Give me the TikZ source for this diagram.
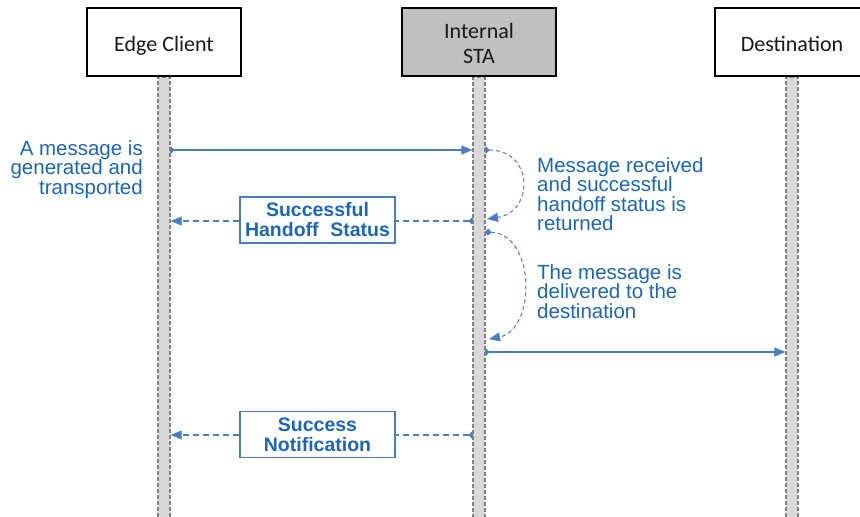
\documentclass[tikz,border=0pt]{standalone}
\usepackage{fontspec}
\setmainfont{Liberation Sans}
\newfontfamily\actorfont{Carlito}
\usetikzlibrary{arrows.meta,calc}

\definecolor{msgline}{RGB}{74,126,190}
\definecolor{msgtext}{RGB}{28,102,184}
\definecolor{barfill}{RGB}{217,217,217}
\definecolor{bardash}{RGB}{128,128,128}
\definecolor{stafill}{RGB}{192,192,192}

\pgfdeclarelayer{links}
\pgfsetlayers{links,main}

\begin{document}
\begin{tikzpicture}[x=1pt,y=-1pt,
  actor/.style={draw=black, line width=1.4pt, fill=white,
    minimum width=154pt, minimum height=68pt, inner sep=0pt, align=center,
    font=\actorfont\fontsize{22}{25}\selectfont, text=black!90,
    text height=23pt, text depth=4pt},
  lifebar/.style={draw=bardash, fill=barfill, line width=1.3pt,
    dash pattern=on 4pt off 2pt, minimum width=12pt, inner sep=0pt,
    anchor=north},
  msg/.style={draw=msgline, line width=1.2pt,
    {Diamond[length=7pt,width=7pt]}-{Triangle[length=11pt,width=9pt]}},
  reply/.style={msg, dash pattern=on 6pt off 4pt},
  turn/.style={msg, line width=1pt, dash pattern=on 4pt off 3pt},
  note/.style={text=msgtext, inner sep=0pt,
    font=\fontsize{20.5}{19.6}\selectfont},
  tag/.style={draw=msgline, line width=1.3pt, fill=white, text=msgtext,
    minimum width=155pt, minimum height=46pt, inner sep=0pt, align=center,
    font=\bfseries\fontsize{19.5}{20}\selectfont}
]
\useasboundingbox (0,0) rectangle (860,517);

% participants
\node[actor] (ec) at (164,42) {Edge Client};
\node[actor, fill=stafill, line width=2pt, text height=48pt, text depth=6pt]
  (sta) at (479,42) {Internal\\STA};
\node[actor] (dst) at (792,42) {Destination};

% lifelines
\node[lifebar, minimum height=440pt] (ecbar) at (ec.south) {};
\node[lifebar, minimum height=440pt] (stabar) at (sta.south) {};
\node[lifebar, minimum height=440pt] (dstbar) at (dst.south) {};

% message heights
\coordinate (y1) at (0,150);
\coordinate (y2) at (0,221);
\coordinate (y3) at (0,232);
\coordinate (y4) at (0,352);
\coordinate (y5) at (0,435);

% connector end points
\coordinate (m1s) at ($(ecbar.east|-y1)+(-3,0)$);
\coordinate (m1e) at (stabar.west|-y1);
\coordinate (m2s) at ($(stabar.west|-y2)+(3,0)$);
\coordinate (m2e) at (ecbar.east|-y2);
\coordinate (a1s) at ($(stabar.east|-y1)+(-3,0)$);
\coordinate (a1e) at (487,219);
\coordinate (a2s) at ($(stabar.east|-y3)+(-1,0)$);
\coordinate (a2e) at (489,339);
\coordinate (m3s) at ($(stabar.east|-y4)+(-3,0)$);
\coordinate (m3e) at (dstbar.west|-y4);
\coordinate (m4s) at ($(stabar.west|-y5)+(3,0)$);
\coordinate (m4e) at (ecbar.east|-y5);

\begin{pgfonlayer}{links}
  \draw[msg] (m1s) -- (m1e);
  \draw[reply] (m2s) -- (m2e);
  \draw[turn] (a1s) .. controls (534,150) and (534,212) .. (a1e);
  \draw[turn] (a2s) .. controls (536,234) and (536,330) .. (a2e);
  \draw[msg] (m3s) -- (m3e);
  \draw[reply] (m4s) -- (m4e);
\end{pgfonlayer}

% labels on the return messages
\node[tag] (t1) at (317.5,220) {Successful\\Handoff\hspace{0.6em}Status};
\node[tag] (t2) at (317.5,434.5) {Success\\Notification};

% annotations
\node[note, anchor=north east, align=right] (n1) at (143,140)
  {A message is\\generated and\\transported};
\node[note, anchor=north west, align=left] (n2) at (537,157)
  {Message received\\and successful\\handoff status is\\returned};
\node[note, anchor=north west, align=left] (n3) at (537,264)
  {The message is\\delivered to the\\destination};
\end{tikzpicture}
\end{document}
